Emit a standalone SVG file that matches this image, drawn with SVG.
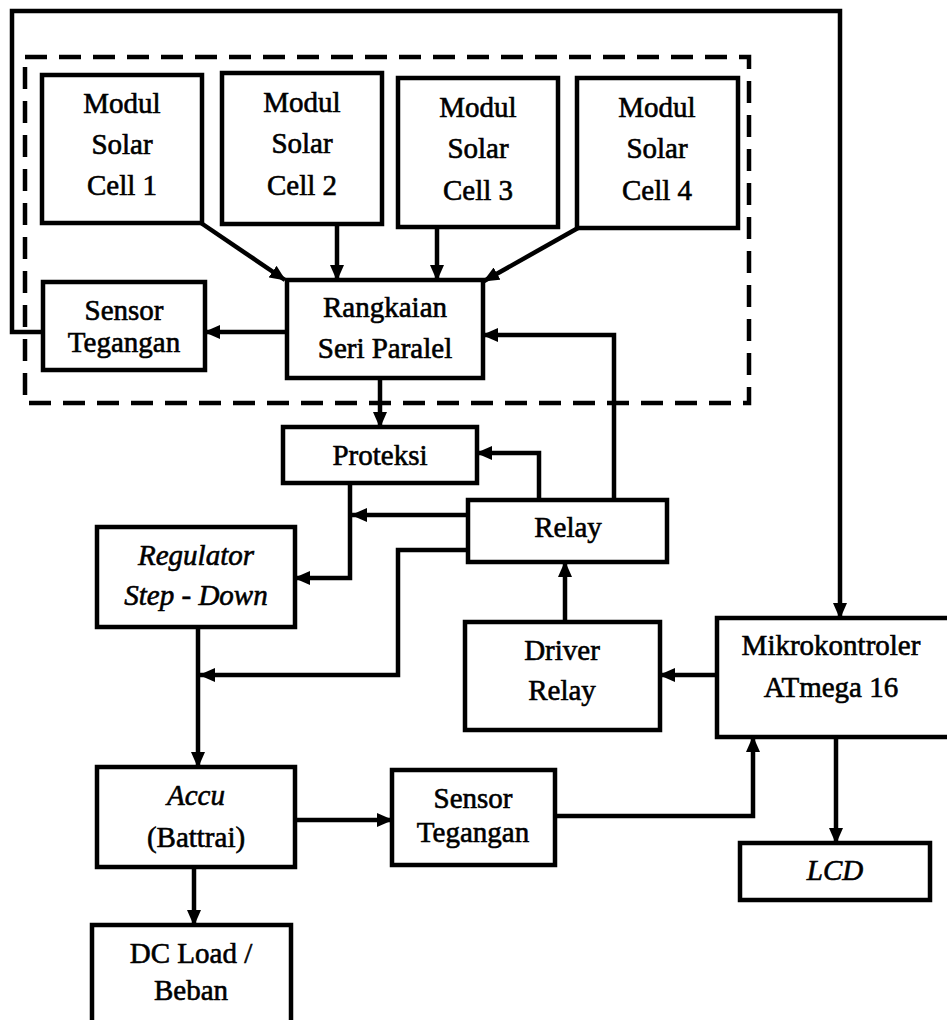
<svg xmlns="http://www.w3.org/2000/svg" width="947" height="1020" viewBox="0 0 947 1020">
<style>
.box{fill:#fff;stroke:#000;stroke-width:4.5}
.dash{fill:none;stroke:#000;stroke-width:4.5;stroke-dasharray:22 12}
.c{fill:none;stroke:#000;stroke-width:4.5}
.a{marker-end:url(#ah)}
.t text{font-size:29px;fill:#000;stroke:#000;stroke-width:0.6;text-anchor:middle}
.i{font-style:italic}
</style>
<defs>
<marker id="ah" markerUnits="userSpaceOnUse" markerWidth="16" markerHeight="14" refX="15" refY="7" orient="auto" viewBox="0 0 16 14">
<path d="M0,0 L16,7 L0,14 z" fill="#000"/>
</marker>
</defs>
<rect width="947" height="1020" fill="#fff"/>
<rect class="dash" x="25" y="57" width="724" height="346"/>
<g id="connectors">
<path class="c a" d="M201,223 L285,280"/>
<path class="c a" d="M337,224 V280"/>
<path class="c a" d="M437,227 V280"/>
<path class="c a" d="M578,228 L484,281"/>
<path class="c a" d="M287,332 H205"/>
<path class="c a" d="M43,332 H12 V11 H840 V618"/>
<path class="c a" d="M614,500 V335 H483"/>
<path class="c a" d="M380,378 V427"/>
<path class="c a" d="M539,500 V453 H477"/>
<path class="c a" d="M350,483 V578 H295"/>
<path class="c a" d="M468,515 H352"/>
<path class="c a" d="M468,550 H398 V675 H200"/>
<path class="c a" d="M198,627 V767"/>
<path class="c a" d="M565,622 V562"/>
<path class="c a" d="M717,675 H660"/>
<path class="c a" d="M295,820 H392"/>
<path class="c a" d="M555,816 H753 V737"/>
<path class="c a" d="M836,737 V843"/>
<path class="c a" d="M194,867 V925"/>
</g>
<g class="t" font-family="'Liberation Serif', 'Times New Roman', Tinos, 'DejaVu Serif', serif">
<g id="modul1"><rect class="box" x="42" y="75" width="160" height="148"/><text x="122" y="113">Modul</text><text x="122" y="154">Solar</text><text x="122" y="195">Cell 1</text></g>
<g id="modul2"><rect class="box" x="222" y="73" width="160" height="151"/><text x="302" y="112">Modul</text><text x="302" y="153">Solar</text><text x="302" y="195">Cell 2</text></g>
<g id="modul3"><rect class="box" x="398" y="78" width="160" height="149"/><text x="478" y="117">Modul</text><text x="478" y="158">Solar</text><text x="478" y="200">Cell 3</text></g>
<g id="modul4"><rect class="box" x="577" y="78" width="161" height="150"/><text x="657" y="117">Modul</text><text x="657" y="158">Solar</text><text x="657" y="200">Cell 4</text></g>
<g id="rangkaian"><rect class="box" x="287" y="280" width="196" height="98"/><text x="385" y="317">Rangkaian</text><text x="385" y="358">Seri Paralel</text></g>
<g id="sensor1"><rect class="box" x="43" y="282" width="162" height="88"/><text x="124" y="320">Sensor</text><text x="124" y="352">Tegangan</text></g>
<g id="proteksi"><rect class="box" x="283" y="427" width="194" height="56"/><text x="380" y="465">Proteksi</text></g>
<g id="relay"><rect class="box" x="468" y="500" width="199" height="62"/><text x="568" y="537">Relay</text></g>
<g id="regulator"><rect class="box" x="97" y="527" width="198" height="100"/><text class="i" x="196" y="565">Regulator</text><text class="i" x="196" y="605">Step - Down</text></g>
<g id="driver"><rect class="box" x="465" y="622" width="195" height="108"/><text x="562" y="660">Driver</text><text x="562" y="700">Relay</text></g>
<g id="mikro"><rect class="box" x="717" y="618" width="240" height="119"/><text x="831" y="655">Mikrokontroler</text><text x="831" y="697">ATmega 16</text></g>
<g id="accu"><rect class="box" x="97" y="767" width="198" height="100"/><text class="i" x="196" y="805">Accu</text><text x="196" y="847">(Battrai)</text></g>
<g id="sensor2"><rect class="box" x="392" y="770" width="163" height="95"/><text x="473" y="808">Sensor</text><text x="473" y="842">Tegangan</text></g>
<g id="lcd"><rect class="box" x="740" y="843" width="190" height="57"/><text class="i" x="835" y="880">LCD</text></g>
<g id="dcload"><rect class="box" x="92" y="925" width="199" height="105"/><text x="191" y="963">DC Load /</text><text x="191" y="1000">Beban</text></g>
</g>
</svg>
